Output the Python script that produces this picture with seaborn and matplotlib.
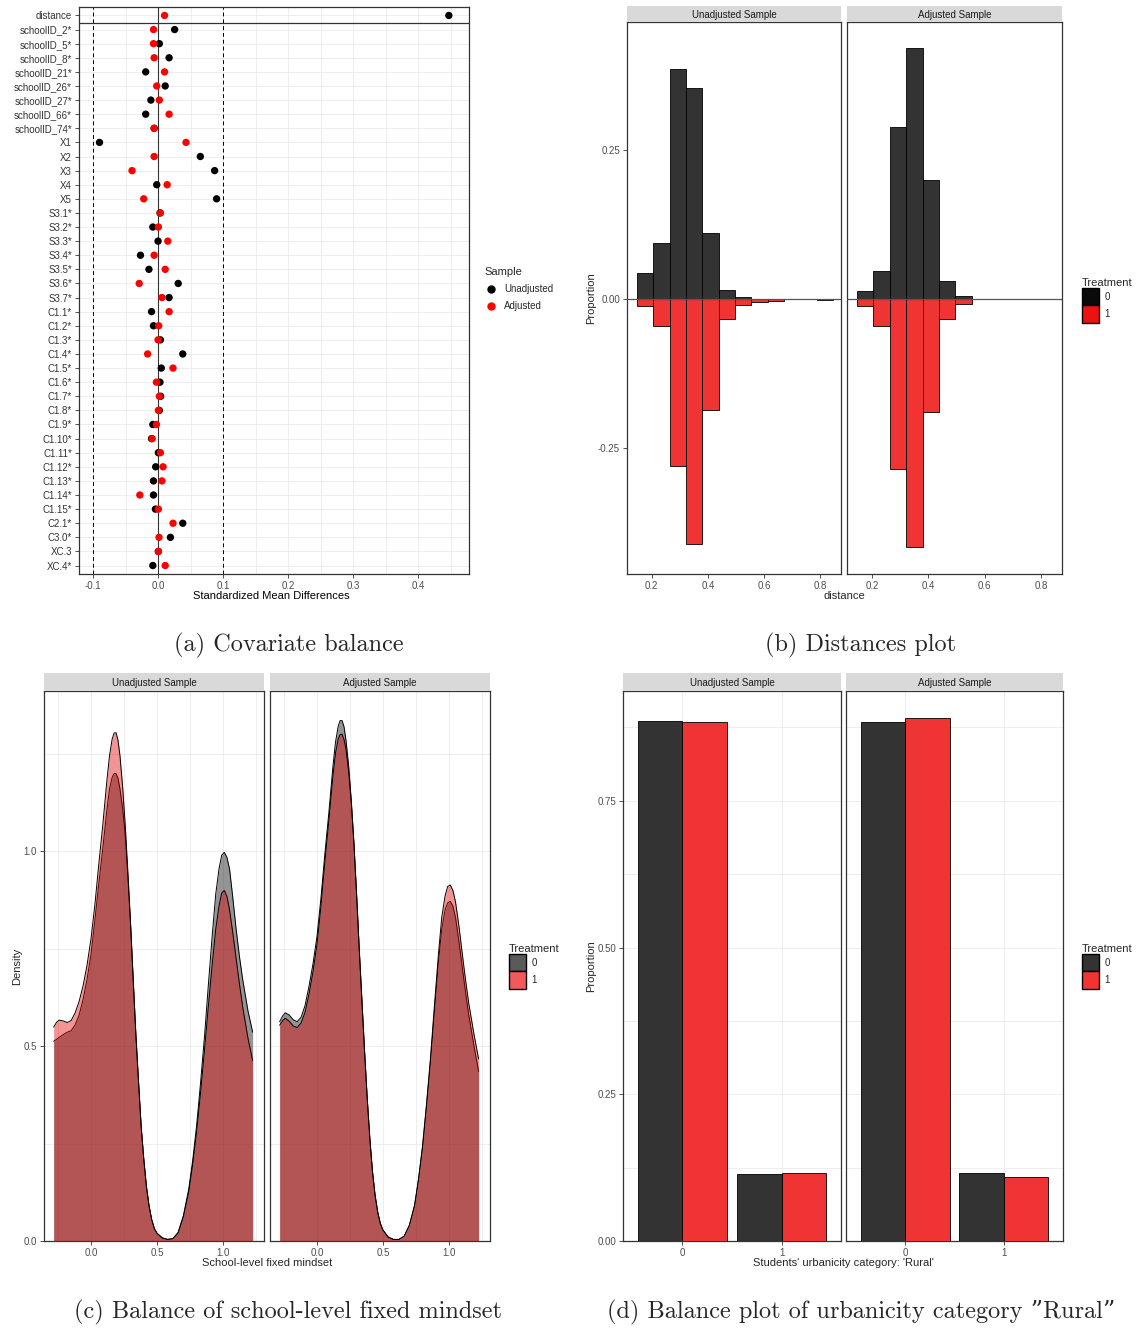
import numpy as np
import pandas as pd
import matplotlib
matplotlib.use("Agg")
import matplotlib.pyplot as plt
import seaborn as sns
from matplotlib.lines import Line2D
from matplotlib.patches import Patch

sns.set_theme(style="white")
plt.rcParams["font.family"] = ["Liberation Sans", "DejaVu Sans"]
plt.rcParams["axes.unicode_minus"] = False

# ---- (a) covariate balance ----
covariates = ["distance", "schoolID_2*", "schoolID_5*", "schoolID_8*", "schoolID_21*",
              "schoolID_26*", "schoolID_27*", "schoolID_66*", "schoolID_74*",
              "X1", "X2", "X3", "X4", "X5",
              "S3.1*", "S3.2*", "S3.3*", "S3.4*", "S3.5*", "S3.6*", "S3.7*",
              "C1.1*", "C1.2*", "C1.3*", "C1.4*", "C1.5*", "C1.6*", "C1.7*", "C1.8*",
              "C1.9*", "C1.10*", "C1.11*", "C1.12*", "C1.13*", "C1.14*", "C1.15*",
              "C2.1*", "C3.0*", "XC.3", "XC.4*"]
smd_unadj = [0.447, 0.0255, 0.002, 0.017, -0.019, 0.011, -0.011, -0.019, -0.006,
             -0.090, 0.065, 0.087, -0.002, 0.090,
             0.003, -0.008, 0.0, -0.027, -0.014, 0.031, 0.017,
             -0.010, -0.007, 0.0036, 0.038, 0.005, 0.003, 0.004, 0.002,
             -0.008, -0.010, 0.0005, -0.0036, -0.007, -0.007, -0.004,
             0.038, 0.019, 0.0005, -0.008]
smd_adj = [0.010, -0.007, -0.007, -0.006, 0.010, -0.002, 0.002, 0.017, -0.006,
           0.043, -0.006, -0.040, 0.014, -0.022,
           0.0036, 0.0005, 0.015, -0.006, 0.011, -0.029, 0.006,
           0.017, 0.001, 0.0, -0.016, 0.023, -0.0025, 0.002, 0.0005,
           -0.0025, -0.009, 0.0036, 0.0077, 0.006, -0.028, 0.0005,
           0.023, 0.0015, 0.0005, 0.011]

# ---- (b) distance histograms (proportion per bin) ----
bin_mid = [0.176, 0.234, 0.292, 0.351, 0.409, 0.467, 0.525, 0.583, 0.641, 0.700, 0.758, 0.816]
dist_unadj_ctrl = [0.043, 0.094, 0.385, 0.354, 0.110, 0.014, 0.003, 0, 0, 0, 0, 0]
dist_unadj_trt = [0.013, 0.046, 0.281, 0.411, 0.187, 0.035, 0.010, 0.0056, 0.0033, 0, 0, 0.002]
dist_adj_ctrl = [0.013, 0.047, 0.288, 0.421, 0.199, 0.029, 0.005, 0, 0, 0, 0, 0]
dist_adj_trt = [0.013, 0.046, 0.286, 0.417, 0.190, 0.034, 0.009, 0, 0, 0, 0, 0]

# ---- (c) density of school-level fixed mindset ----
mind_x = [-0.283, -0.26, -0.24, -0.21, -0.18, -0.15, -0.12, -0.09, -0.06, -0.03,
          0.0, 0.03, 0.06, 0.09, 0.12, 0.14, 0.16, 0.175, 0.19, 0.205,
          0.22, 0.24, 0.26, 0.28, 0.30, 0.32, 0.34, 0.36, 0.38, 0.40,
          0.42, 0.44, 0.46, 0.48, 0.50, 0.54, 0.58, 0.62, 0.66, 0.70,
          0.74, 0.77, 0.80, 0.83, 0.86, 0.89, 0.92, 0.945, 0.97, 0.99,
          1.01, 1.03, 1.05, 1.075, 1.10, 1.125, 1.15, 1.19, 1.225]
dens_unadj_ctrl = [0.513, 0.518, 0.523, 0.530, 0.536, 0.540, 0.555, 0.580, 0.620, 0.672,
                   0.735, 0.825, 0.920, 1.010, 1.105, 1.160, 1.190, 1.200, 1.200, 1.188,
                   1.160, 1.110, 1.040, 0.930, 0.810, 0.670, 0.530, 0.410, 0.295, 0.210,
                   0.140, 0.090, 0.055, 0.032, 0.020, 0.008, 0.004, 0.006, 0.022, 0.065,
                   0.132, 0.205, 0.295, 0.405, 0.525, 0.660, 0.790, 0.890, 0.955, 0.990,
                   0.998, 0.985, 0.955, 0.880, 0.800, 0.730, 0.670, 0.590, 0.536]
dens_unadj_trt = [0.549, 0.562, 0.567, 0.565, 0.561, 0.566, 0.586, 0.615, 0.655, 0.708,
                  0.775, 0.865, 0.970, 1.070, 1.180, 1.245, 1.288, 1.304, 1.305, 1.285,
                  1.245, 1.165, 1.065, 0.945, 0.815, 0.670, 0.530, 0.410, 0.295, 0.210,
                  0.140, 0.090, 0.055, 0.032, 0.020, 0.008, 0.004, 0.006, 0.020, 0.062,
                  0.125, 0.195, 0.280, 0.380, 0.490, 0.605, 0.715, 0.800, 0.860, 0.893,
                  0.900, 0.885, 0.850, 0.790, 0.725, 0.660, 0.600, 0.520, 0.463]
dens_adj_ctrl = [0.563, 0.578, 0.586, 0.580, 0.568, 0.563, 0.575, 0.605, 0.655, 0.712,
                 0.782, 0.880, 0.995, 1.100, 1.215, 1.280, 1.320, 1.336, 1.336, 1.320,
                 1.285, 1.220, 1.130, 1.020, 0.890, 0.750, 0.620, 0.490, 0.370, 0.265,
                 0.180, 0.118, 0.074, 0.045, 0.028, 0.010, 0.004, 0.004, 0.012, 0.040,
                 0.092, 0.160, 0.240, 0.345, 0.460, 0.590, 0.715, 0.800, 0.850, 0.868,
                 0.872, 0.860, 0.830, 0.770, 0.705, 0.640, 0.580, 0.500, 0.435]
dens_adj_trt = [0.554, 0.566, 0.572, 0.564, 0.552, 0.548, 0.560, 0.588, 0.635, 0.692,
                0.762, 0.860, 0.975, 1.080, 1.192, 1.252, 1.288, 1.300, 1.301, 1.287,
                1.262, 1.205, 1.125, 1.020, 0.890, 0.750, 0.620, 0.490, 0.370, 0.265,
                0.180, 0.118, 0.074, 0.045, 0.028, 0.010, 0.004, 0.004, 0.012, 0.040,
                0.092, 0.160, 0.245, 0.352, 0.470, 0.605, 0.735, 0.830, 0.885, 0.910,
                0.914, 0.900, 0.870, 0.810, 0.740, 0.672, 0.610, 0.530, 0.467]

# ---- (d) urbanicity "Rural" ----
rural_cat = ["0", "1"]
rural_unadj_ctrl = [0.886, 0.114]
rural_unadj_trt = [0.885, 0.115]
rural_adj_ctrl = [0.884, 0.116]
rural_adj_trt = [0.891, 0.109]

facets = ["Unadjusted Sample", "Adjusted Sample"]

W, H = 1138, 1331
fig = plt.figure(figsize=(W / 100, H / 100), dpi=100)
TICK_C = "#4D4D4D"
BORDER = "#333333"
GRID = "#EBEBEB"
CTRL = "#333333"
TRT = "#F03333"
SERIF = ["cmr10", "DejaVu Serif"]


def box(x0, y0, x1, y1):
    return [x0 / W, 1 - y1 / H, (x1 - x0) / W, (y1 - y0) / H]


def style(ax):
    for s in ax.spines.values():
        s.set_visible(True)
        s.set_color(BORDER)
        s.set_linewidth(0.9)
    ax.tick_params(length=3, width=0.6, color=BORDER, labelcolor=TICK_C, labelsize=7, pad=2,
                   left=True, bottom=True)
    ax.set_xlabel("")
    ax.set_ylabel("")
    ax.set_axisbelow(True)


def strip(x0, x1, y0, y1, label):
    s = fig.add_axes(box(x0, y0, x1, y1))
    s.set_facecolor("#D9D9D9")
    s.set_xticks([])
    s.set_yticks([])
    for sp in s.spines.values():
        sp.set_visible(False)
    s.text(0.5, 0.45, label, ha="center", va="center", fontsize=7, color="#1A1A1A",
           transform=s.transAxes)


def ftext(x, y, s, **kw):
    fig.text(x / W, 1 - y / H, s, ha="center", va="center", **kw)


def treat_legend(handles, x, y):
    fig.legend(handles=handles, labels=["0", "1"], title="Treatment", loc="upper left",
               bbox_to_anchor=(x / W, 1 - y / H), frameon=False, fontsize=7, title_fontsize=8,
               alignment="left", handlelength=1.8, handleheight=2.4, labelspacing=0.0,
               handletextpad=0.5, borderaxespad=0)


# ---------- panel (a) ----------
ax = fig.add_axes(box(79, 7, 469, 574))
df_a = pd.DataFrame({
    "covariate": covariates * 2,
    "SMD": smd_unadj + smd_adj,
    "Sample": ["Unadjusted"] * len(covariates) + ["Adjusted"] * len(covariates),
})
sns.stripplot(data=df_a, x="SMD", y="covariate", hue="Sample", order=covariates,
              hue_order=["Unadjusted", "Adjusted"], palette={"Unadjusted": "black", "Adjusted": "red"},
              jitter=False, size=5.3, linewidth=0, legend=False, ax=ax, zorder=3)
style(ax)
ax.set_xlim(-0.1215, 0.478)
ax.set_ylim(len(covariates) - 1 + 0.6, -0.6)
ax.set_xticks([-0.1, 0.0, 0.1, 0.2, 0.3, 0.4])
ax.set_xticklabels(["-0.1", "0.0", "0.1", "0.2", "0.3", "0.4"])
ax.set_xticks(np.arange(-0.1, 0.46, 0.05), minor=True)
ax.tick_params(axis="x", which="minor", length=0)
ax.grid(True, which="both", axis="x", color=GRID, lw=0.6)
ax.grid(True, which="major", axis="y", color=GRID, lw=0.6)
ax.axvline(0, color=BORDER, lw=0.8, zorder=2)
ax.axvline(-0.1, color="black", lw=0.7, ls=(0, (4, 3)), zorder=2)
ax.axvline(0.1, color="black", lw=0.7, ls=(0, (4, 3)), zorder=2)
ax.axhline(0.5, color=BORDER, lw=0.9, zorder=2)
ax.tick_params(axis="y", labelcolor="#333333")
ftext(271, 596, "Standardized Mean Differences", fontsize=8, color="black")
fig.legend(handles=[Line2D([], [], marker="o", ls="", color="black", ms=5),
                    Line2D([], [], marker="o", ls="", color="red", ms=5)],
           labels=["Unadjusted", "Adjusted"], title="Sample", loc="upper left",
           bbox_to_anchor=(481 / W, 1 - 263 / H), frameon=False, fontsize=7, title_fontsize=8,
           alignment="left", handletextpad=0.8, labelspacing=0.75, handlelength=1.2, borderaxespad=0)

# ---------- panel (b) ----------
b_data = [(dist_unadj_ctrl, dist_unadj_trt), (dist_adj_ctrl, dist_adj_trt)]
b_x = [(627, 841), (847, 1062)]
for i, (ctrl, trt) in enumerate(b_data):
    x0, x1 = b_x[i]
    ax = fig.add_axes(box(x0, 22, x1, 574))
    sns.histplot(x=bin_mid, weights=ctrl, bins=12, binrange=(0.147, 0.845), color=CTRL,
                 alpha=1, edgecolor="black", linewidth=0.6, ax=ax)
    sns.histplot(x=bin_mid, weights=[-v for v in trt], bins=12, binrange=(0.147, 0.845), color=TRT,
                 alpha=1, edgecolor="black", linewidth=0.6, ax=ax)
    for p in list(ax.patches):
        if abs(p.get_height()) < 1e-9:
            p.remove()
    style(ax)
    ax.axhline(0, color="#555555", lw=0.9, zorder=5)
    ax.set_xlim(0.112, 0.874)
    ax.set_ylim(-0.462, 0.464)
    ax.set_xticks([0.2, 0.4, 0.6, 0.8])
    ax.set_xticklabels(["0.2", "0.4", "0.6", "0.8"])
    if i == 0:
        ax.set_yticks([-0.25, 0.0, 0.25])
        ax.set_yticklabels(["-0.25", "0.00", "0.25"])
    else:
        ax.set_yticks([])
    strip(x0, x1, 6, 22, facets[i])
ftext(591, 298, "Proportion", fontsize=8, rotation=90)
ftext(844, 596, "distance", fontsize=8)
treat_legend([Patch(facecolor="#0A0A0A", edgecolor="black"), Patch(facecolor="#EE1111", edgecolor="black")],
             1078, 274)

# ---------- panel (c) ----------
c_data = [(dens_unadj_ctrl, dens_unadj_trt), (dens_adj_ctrl, dens_adj_trt)]
c_x = [(44, 264), (270, 490)]
for i, (ctrl, trt) in enumerate(c_data):
    x0, x1 = c_x[i]
    ax = fig.add_axes(box(x0, 691, x1, 1241))
    style(ax)
    ax.fill_between(mind_x, 0, ctrl, color="black", alpha=0.42, lw=0, zorder=2)
    sns.lineplot(x=mind_x, y=ctrl, color="black", lw=0.7, sort=False, estimator=None, ax=ax, zorder=3)
    ax.fill_between(mind_x, 0, trt, color="#E00000", alpha=0.42, lw=0, zorder=4)
    sns.lineplot(x=mind_x, y=trt, color="black", lw=0.7, sort=False, estimator=None, ax=ax, zorder=5)
    style(ax)
    ax.set_xlim(-0.356, 1.311)
    ax.set_ylim(0, 1.412)
    ax.set_xticks([0.0, 0.5, 1.0])
    ax.set_xticklabels(["0.0", "0.5", "1.0"])
    ax.set_xticks([-0.25, 0.25, 0.75, 1.25], minor=True)
    ax.set_yticks([0.25, 0.75, 1.25], minor=True)
    ax.tick_params(which="minor", length=0)
    ax.set_yticks([0.0, 0.5, 1.0])
    if i == 0:
        ax.set_yticklabels(["0.0", "0.5", "1.0"])
    else:
        ax.tick_params(axis="y", which="major", length=0, labelleft=False)
    ax.grid(True, which="both", color=GRID, lw=0.6)
    strip(x0, x1, 673, 691, facets[i])
ftext(17, 966, "Density", fontsize=8, rotation=90)
ftext(267, 1263, "School-level fixed mindset", fontsize=8)
treat_legend([Patch(facecolor="#5A5A5A", edgecolor="black"), Patch(facecolor="#F05A5A", edgecolor="black")],
             505, 940)

# ---------- panel (d) ----------
d_data = [(rural_unadj_ctrl, rural_unadj_trt), (rural_adj_ctrl, rural_adj_trt)]
d_x = [(623, 841), (846, 1063)]
for i, (ctrl, trt) in enumerate(d_data):
    x0, x1 = d_x[i]
    ax = fig.add_axes(box(x0, 691, x1, 1241))
    df_d = pd.DataFrame({"cat": rural_cat * 2, "prop": ctrl + trt,
                         "Treatment": ["0"] * 2 + ["1"] * 2})
    sns.barplot(data=df_d, x="cat", y="prop", hue="Treatment", order=rural_cat, hue_order=["0", "1"],
                palette={"0": CTRL, "1": TRT}, width=0.9, saturation=1, errorbar=None,
                edgecolor="black", linewidth=0.6, legend=False, ax=ax, zorder=3)
    style(ax)
    ax.set_xlim(-0.6, 1.6)
    ax.set_ylim(0, 0.937)
    ax.set_xticks([0, 1])
    ax.set_xticklabels(rural_cat)
    ax.set_yticks([0.125, 0.375, 0.625, 0.875], minor=True)
    ax.tick_params(which="minor", length=0)
    ax.set_yticks([0.0, 0.25, 0.5, 0.75])
    if i == 0:
        ax.set_yticklabels(["0.00", "0.25", "0.50", "0.75"])
    else:
        ax.tick_params(axis="y", which="major", length=0, labelleft=False)
    ax.grid(True, which="both", color=GRID, lw=0.6)
    strip(x0, x1, 673, 691, facets[i])
ftext(591, 966, "Proportion", fontsize=8, rotation=90)
ftext(843, 1263, "Students' urbanicity category: 'Rural'", fontsize=8)
treat_legend([Patch(facecolor=CTRL, edgecolor="black"), Patch(facecolor=TRT, edgecolor="black")],
             1078, 940)

# ---------- captions ----------
ftext(289, 645, "(a) Covariate balance", fontsize=17.5, family=SERIF)
ftext(861, 645, "(b) Distances plot", fontsize=17.5, family=SERIF)
ftext(288, 1312, "(c) Balance of school-level fixed mindset", fontsize=17.5, family=SERIF)
ftext(861, 1312, "(d) Balance plot of urbanicity category \u201dRural\u201d", fontsize=17.5, family=SERIF)

fig.savefig("out.png", dpi=100, facecolor="white")
